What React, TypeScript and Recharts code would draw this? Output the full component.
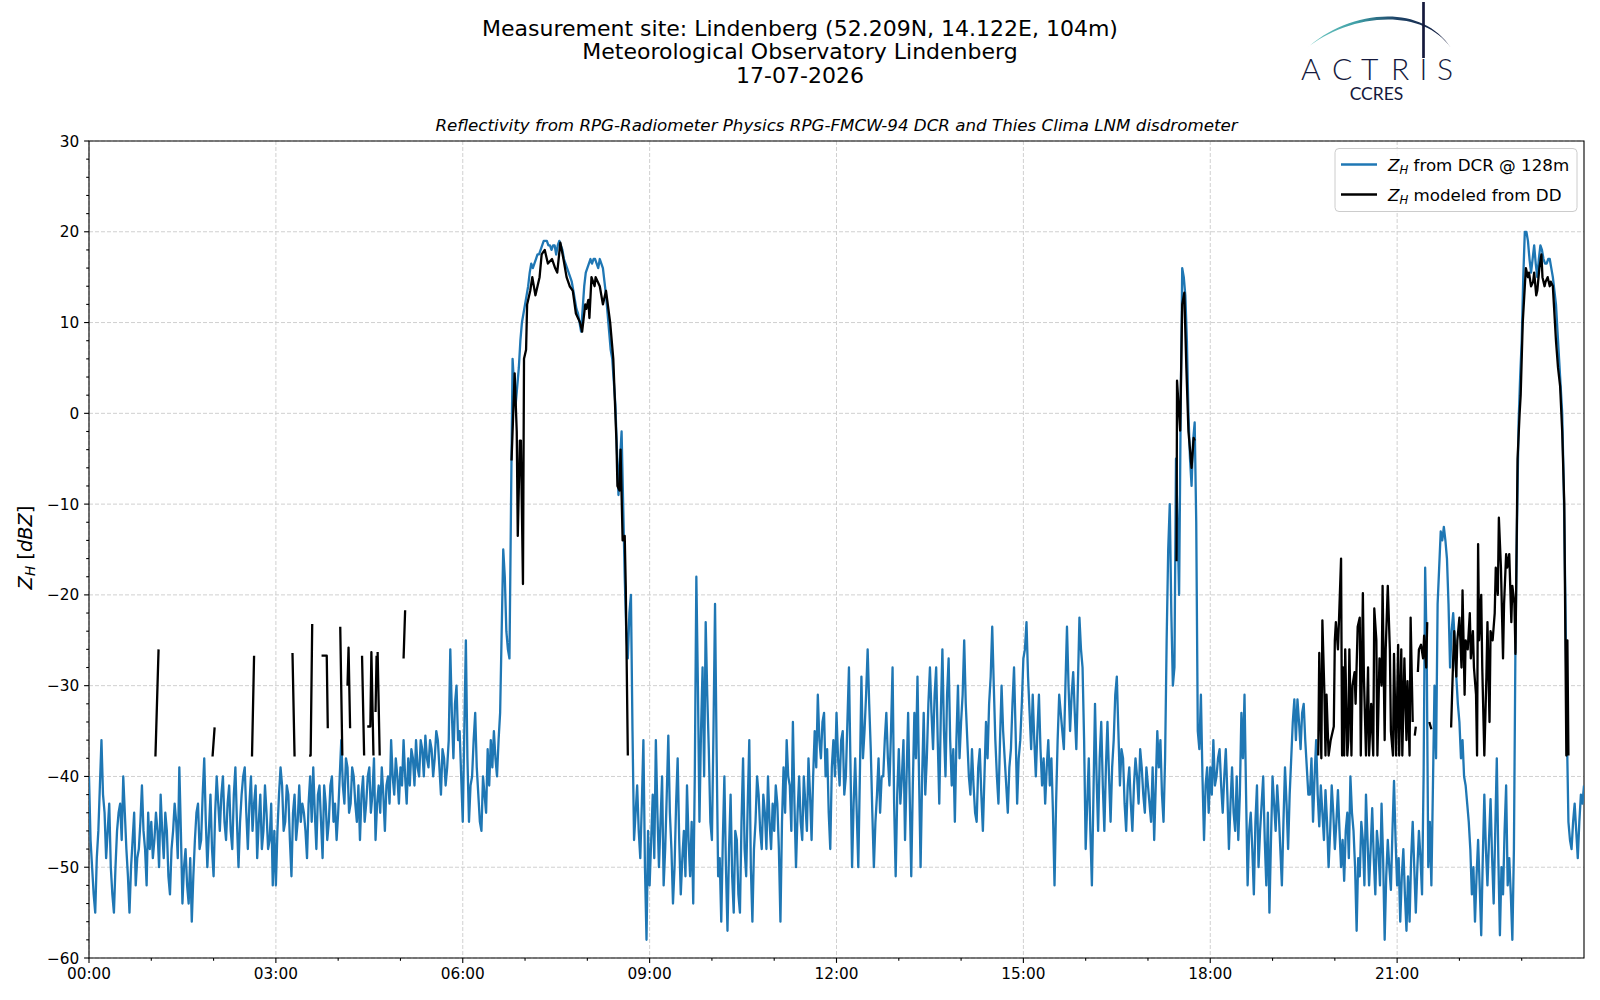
import React from 'react';
import { LineChart, Line, XAxis, YAxis, CartesianGrid, ReferenceArea } from 'recharts';

const FONT = '"DejaVu Sans", Verdana, sans-serif';

// ---- DCR reflectivity at 128 m (dBZ) ----
// main samples every 3 minutes (t = 0, 3, 6, ... min)
const blueStepMin = 3;
const blueH00 = [
  -40, -50, -55, -46, -36, -44, -46, -50, -55, -46, -43, -40, -48, -55, -47, -52, -48, -41, -48, -44,
  -45, -47, -46, -42, -49, -46, -53, -46, -45, -39, -54, -48, -54, -56, -47, -43, -47, -38, -50, -42,
  -51, -40, -46, -40, -47, -41, -48, -39, -50, -42, -39, -48, -40, -43, -49, -42, -46, -44, -47, -52,
];
const blueH03 = [
  -52, -42, -41, -45, -42, -51, -42, -45, -45, -44, -49, -40, -39, -48, -41, -49, -43, -45, -40, -43,
  -44, -36, -43, -39, -43, -40, -45, -47, -40, -43, -39, -42, -47, -41, -39, -46, -40, -36, -42, -40,
  -39, -36, -43, -41, -38, -36, -40, -37, -35.5, -39, -37, -38, -36, -42, -38, -39, -26, -38, -30, -35,
];
const blueH06 = [
  -45, -25, -45, -40, -33, -42, -46, -42, -37, -36, -35, -40, -33, -15, -24, -27, 6, 1, 5, 10,
  12, 14, 16.5, 16.5, 17.5, 18, 19, 19, 18.5, 18.5, 17.5, 19, 18, 16.5, 15.5, 14.5, 12.5, 11, 9, 14,
  16, 17, 17, 16.5, 17, 16, 13, 9, 6, 1, -9, -2, -18, -27, -20, -47, -41, -49, -36, -58,
];
const blueH09 = [
  -52, -42, -36, -50, -40, -48, -35.5, -48, -50, -38, -53, -46, -41, -51, -54, -18, -45, -28, -23, -37,
  -47, -21, -51, -56, -40, -57, -42, -55, -47, -55, -38, -51, -36, -56, -45, -42, -48, -44, -40, -48,
  -46, -43, -56, -39, -36, -41, -34, -50, -40, -47, -43, -38, -47, -35, -31, -38, -33, -37, -48, -36,
];
const blueH12 = [
  -33, -41, -35, -40, -28, -50, -38, -50, -29, -35, -26, -37, -50, -42, -44, -40, -33, -41, -28, -51,
  -37, -40, -47, -33, -51, -33, -29, -50, -33, -38, -28, -37, -28, -43, -26, -40, -27, -41, -45, -30,
  -34, -25, -36, -42, -41, -45, -37, -46, -34, -32, -23.5, -36, -43, -30, -38, -44, -37, -28, -43, -36,
];
const blueH15 = [
  -27, -23, -33, -31, -40, -31, -41, -43, -36, -38, -52, -36, -33, -37, -23.5, -35, -28.5, -37, -22.5, -28,
  -48, -38, -52, -32, -46, -34, -46, -34, -45, -36, -29, -41, -38, -46, -39, -46, -38, -43, -39, -44,
  -41, -45, -47, -35, -36, -45, -25, -10, -30, -5, -20, 16, 13, 0, -8, -1, -35, -31, -47, -39,
];
const blueH18 = [
  -39, -36, -40, -37, -44, -37, -48, -39, -46, -47, -33, -31, -52, -44, -53, -41, -46, -40, -52, -55,
  -40, -46, -44, -52, -39, -48, -38, -31.5, -31.5, -37, -32, -39, -42, -45, -36, -45.5, -44, -41.5, -50, -41,
  -48, -41.5, -50, -51.5, -44, -40, -46, -57, -51, -47, -42, -52, -43.5, -53, -48, -43, -58, -47, -52.5, -40.5,
];
const blueH21 = [
  -52, -56, -48, -57, -56, -45, -55, -46, -53, -17, -50, -52, -30, -21, -13, -12.5, -16, -28, -22, -29,
  -34, -36, -41, -45, -53, -56, -47, -57.5, -42, -52, -42.5, -54, -38, -57.5, -53, -41, -49, -58, -25, -1,
  8, 20, 19, 15.5, 18.5, 15, 18.5, 17, 16.5, 17, 15, 12, 6, 0, -20, -45, -48, -43, -49, -42, -41,
];
// in-between samples (t = 1.5, 4.5, 7.5, ... min)
const blueH00b = [
  -47, -53, -49, -41, -42, -49, -43, -53, -50, -44, -47, -44, -51, -50, -44, -49, -45, -46, -52, -48,
  -49, -44, -50, -46, -44, -51, -48, -43, -49, -46, -50, -52, -49, -51, -44, -48, -42, -45, -46, -48,
  -44, -43, -42, -45, -43, -46, -42, -45, -45, -40, -44, -43, -46, -41, -45, -48, -41, -48, -43, -46,
];
const blueH03b = [
  -46, -39, -46, -41, -47, -44, -47, -41, -43, -46, -43, -45, -44, -42, -45, -41, -47, -41, -45, -47,
  -40, -41, -38, -44, -39, -43, -41, -42, -45, -40, -44, -38, -43, -44, -42, -41, -43, -40, -38, -43,
  -41, -40, -38, -37, -41, -39, -36, -40, -38, -36, -40, -35, -39, -37, -41, -36, -33, -32, -36, -40,
];
const blueH06b = [
  -35, -38, -41, -36, -39, -45, -40, -44, -41, -39, -38, -36, -24, -18, -26, -10, 3, 3, 8, 11,
  13, 15.5, 16, 17, 17.5, 18.5, 19, 18.5, 18, 18.5, 18.5, 18.5, 17, 16, 15, 13.5, 11.5, 10, 11.5, 15.5,
  16.5, 16.5, 17, 16, 16.5, 14.5, 11, 7, 3.5, -4, -5, -10, -24, -22, -35, -44, -46, -43, -50, -46,
];
const blueH09b = [
  -47, -49, -44, -45, -52, -42, -44, -54, -43, -47, -49, -51, -47, -45, -40, -30, -35, -40, -31, -45,
  -35, -37, -49, -47, -50, -48, -51, -46, -53, -45, -48, -43, -50, -48, -40, -46, -42, -48, -45, -43,
  -41, -48, -45, -44, -40, -46, -43, -44, -45, -40, -46, -42, -40, -39, -36, -34, -40, -44, -39, -40,
];
const blueH12b = [
  -38, -36, -42, -34, -39, -43, -44, -40, -38, -31, -32, -44, -45, -38, -40, -36, -38, -35, -43, -42,
  -43, -36, -40, -42, -41, -38, -40, -40, -42, -32, -33, -31, -36, -33, -35, -31, -36, -37, -36, -38,
  -31, -32, -40, -37, -44, -39, -42, -40, -38, -29, -30, -40, -36, -35, -41, -39, -32, -35, -38, -32,
];
const blueH15b = [
  -26, -29, -37, -36, -35, -37, -38, -39, -41, -44, -43, -31, -35, -30, -30, -31, -33, -30, -26, -36,
  -43, -46, -42, -40, -38, -41, -39, -40, -39, -31, -35, -37, -43, -41, -43, -41, -40, -37, -42, -39,
  -43, -39, -41, -39, -42, -38, -15, -22, -28, -12, 0, 15, 8, -5, -3, -12, -37, -40, -41, -44,
];
const blueH18b = [
  -42, -41, -38, -41, -40, -42, -43, -44, -40, -42, -38, -42, -46, -48, -45, -50, -43, -47, -44, -47,
  -43, -41, -48, -45, -43, -42, -34, -36, -34, -33, -36, -42, -38, -40, -42, -41, -47, -45, -46, -44,
  -45, -46, -47, -46, -49, -44, -50, -49, -45, -52, -47, -48, -49, -46, -52, -49, -51, -50, -46, -47,
];
const blueH21b = [
  -49, -51, -53, -51, -49, -50, -50, -49, -40, -26, -45, -41, -38, -17, -14, -14, -21, -24, -25, -32,
  -38, -40, -43, -48, -50, -51, -52, -49, -48, -47, -49, -46, -49, -50, -46, -52, -53, -48, -12, 4,
  15, 20, 17, 17, 16.5, 17, 18, 16.5, 17, 16, 13.5, 9, 3, -8, -35, -47, -45, -46, -45, -43,
];

// ---- Disdrometer-modelled reflectivity (minutes of day, dBZ; null = no data) ----
const blackNightT = [64, 67, 68, 119, 121, 122, 157, 159, 160, 196, 198, 199, 212, 213.5, 215, 216,
  224, 229, 230, 231, 242, 244, 245, 249, 250, 251.5, 252.5, 263, 265, 266, 268, 271, 272, 274, 275,
  276, 277, 277.5, 278, 280, 281, 303, 304.5, 306];
const blackNightZ = [-37.8, -26, null, -37.8, -34.6, null, -37.8, -26.7, null, -26.4, -37.8, null, -37.7, -37.7, -23.2, null,
  -26.7, -26.7, -34.7, null, -23.5, -37.7, null, -30, -25.8, -34.7, null, -26.7, -37.7, null, -34.5, -34.5, -26.3, -37.7, null,
  -32.9, -26.7, null, -26.3, -37.7, null, -27, -21.7, null];

const blackMorningT = [407, 410, 412, 413, 415, 416, 418, 419, 421, 422, 425, 427, 430, 432, 434, 436, 439, 442, 446, 449,
  451, 454, 457, 460, 463, 466, 469, 473, 475, 478, 479, 481, 482, 484, 487, 488, 492, 495, 498, 502,
  505, 508, 509, 511, 512, 514, 516, 517, 519, 520];
const blackMorningZ = [-5.2, 4.4, -2, -13.5, -3, -3, -18.8, 6, 7, 12, 13.5, 15, 13, 14, 15, 17.5, 18, 16.5, 17, 16,
  15.5, 18.8, 17, 15, 14, 13.5, 11, 10, 9, 12, 11.5, 12.5, 10.5, 15, 14, 15, 14, 12, 13.5, 10,
  6, -3, -8, -8.5, -4, -14, -13.5, -19, -37.7, null];

const blackEveningT = [1047.5, 1048, 1051, 1053, 1055, 1057, 1059, 1062, 1064, 1065, 1066];
const blackEveningZ = [-16.3, 3.6, -1.9, 12, 13.3, 5, -2, -6, -2.7, -3, null];

const blackLateT = [1184, 1185, 1187, 1188, 1190, 1191, 1192, 1194, 1196, 1199, 1200, 1201, 1203, 1204, 1206, 1207, 1208, 1209,
  1210, 1212, 1213, 1214, 1216, 1217, 1219, 1220, 1222, 1224, 1225, 1227, 1228, 1230, 1232, 1233, 1235, 1237,
  1238, 1240, 1241, 1243, 1245, 1246, 1248, 1249, 1251, 1253, 1254, 1256, 1257, 1259, 1261, 1262, 1264, 1265,
  1267, 1269, 1270, 1272, 1273, 1275, 1276, 1277, 1278, 1279, 1280, 1281, 1283, 1285, 1286, 1288, 1289, 1290,
  1291, 1293, 1300, 1312, 1314, 1315, 1317, 1318, 1320, 1322, 1323, 1325, 1326, 1328, 1330, 1331, 1333, 1334,
  1336, 1337, 1338, 1339, 1341, 1342, 1344, 1346, 1347, 1349, 1350, 1352, 1354, 1355, 1357, 1358, 1360, 1362,
  1363, 1365, 1366, 1368, 1370, 1371, 1373, 1374, 1376, 1378, 1379, 1381, 1383, 1384, 1386, 1387, 1389, 1391,
  1392, 1394, 1395, 1397, 1399, 1400, 1402, 1403, 1405, 1407, 1408, 1410, 1411, 1413, 1415, 1417, 1419, 1421,
  1423, 1424, 1425];
const blackLateZ = [-37.7, -26.4, -38, -22.8, -31, -37.7, -31, -37.7, -36, -34.5, -25, -23, -26, -22.8, -16, -37.7, -28, -37.7,
  -26, -37.7, -36, -26, -37.7, -30, -28.5, -32, -23.5, -22.5, -37.7, -19.8, -29, -37.7, -28, -37.7, -32, -37.7,
  -21.5, -25, -37.7, -27, -30, -19, -36, -26, -19, -26, -35, -37.7, -26.5, -37.7, -25.5, -37.7, -26, -37.7,
  -27, -36, -29.5, -37.7, -22.5, -34, null, -35.5, -34.5, null, -28.5, -26, -25.5, -27, -24.5, -28, -23, null,
  -34, -34.8, null, -34.6, -27, -24, -29, -25, -22.5, -28, -19.5, -31, -25, -26, -22, -27, -24, -28,
  -31, -37.7, -14.4, -25, -20, -28, -37.7, -29, -23, -34, -24, -25, -22, -17, -20, -11.5, -17, -27,
  -21, -15.5, -17, -15.5, -23, -19, -21, -26.5, -5, 0, 2, 10, 14, 16, 15, 15.5, 14, 14.5,
  15.5, 13, 13.5, 16, 17.5, 15, 14, 14.5, 15, 14, 14.5, 14, 12, 8, 5, 3, -2, -10,
  -37.7, -25, -37.7];

// ---- axes ----
const xMajorTicks = [0, 180, 360, 540, 720, 900, 1080, 1260];
const xMajorLabels = ['00:00', '03:00', '06:00', '09:00', '12:00', '15:00', '18:00', '21:00'];
const xAllTicks = [0, 60, 120, 180, 240, 300, 360, 420, 480, 540, 600, 660, 720, 780, 840, 900, 960, 1020, 1080, 1140, 1200, 1260, 1320, 1380];
const yMajorTicks = [-60, -50, -40, -30, -20, -10, 0, 10, 20, 30];
const yAllTicks = [-60, -58, -56, -54, -52, -50, -48, -46, -44, -42, -40, -38, -36, -34, -32, -30, -28, -26, -24, -22, -20,
  -18, -16, -14, -12, -10, -8, -6, -4, -2, 0, 2, 4, 6, 8, 10, 12, 14, 16, 18, 20, 22, 24, 26, 28, 30];

const blueMain = [...blueH00, ...blueH03, ...blueH06, ...blueH09, ...blueH12, ...blueH15, ...blueH18, ...blueH21];
const blueHalf = [...blueH00b, ...blueH03b, ...blueH06b, ...blueH09b, ...blueH12b, ...blueH15b, ...blueH18b, ...blueH21b];
const blueData = blueMain.flatMap((z, i) =>
  i < blueHalf.length
    ? [{ t: i * blueStepMin, z }, { t: i * blueStepMin + blueStepMin / 2, z: blueHalf[i] }]
    : [{ t: i * blueStepMin, z }]
);
const blackT = [...blackNightT, ...blackMorningT, ...blackEveningT, ...blackLateT];
const blackZ = [...blackNightZ, ...blackMorningZ, ...blackEveningZ, ...blackLateZ];
const blackData = blackT.map((t, i) => ({ t, z: blackZ[i] }));

const TICK_SIZE = 5;
const TICK_MARGIN = 5;
const MAJOR_LEN = 4.9;
const MINOR_LEN = 2.8;
const LABEL_PAD = 4.9;
const TICK_FONT = 15.3;
const LINE_W = 2.3;

function XTick(props: any) {
  const { x, y, payload } = props;
  const axisY = y - TICK_SIZE - TICK_MARGIN;
  const idx = xMajorTicks.indexOf(payload.value);
  const major = idx >= 0;
  return (
    <g>
      <line x1={x} x2={x} y1={axisY} y2={axisY + (major ? MAJOR_LEN : MINOR_LEN)} stroke="#000" strokeWidth={1.1} />
      {major && (
        <text x={x} y={axisY + MAJOR_LEN + LABEL_PAD} dy="0.74em" textAnchor="middle" fontSize={TICK_FONT} fill="#000" fontFamily={FONT}>
          {xMajorLabels[idx]}
        </text>
      )}
    </g>
  );
}

function YTick(props: any) {
  const { x, y, payload } = props;
  const axisX = x + TICK_SIZE + TICK_MARGIN;
  const v = payload.value;
  const major = yMajorTicks.indexOf(v) >= 0;
  const label = v < 0 ? '\u2212' + Math.abs(v) : String(v);
  return (
    <g>
      <line x1={axisX - (major ? MAJOR_LEN : MINOR_LEN)} x2={axisX} y1={y} y2={y} stroke="#000" strokeWidth={1.1} />
      {major && (
        <text x={axisX - MAJOR_LEN - LABEL_PAD} y={y} dy="0.36em" textAnchor="end" fontSize={TICK_FONT} fill="#000" fontFamily={FONT}>
          {label}
        </text>
      )}
    </g>
  );
}

function Overlay() {
  return (
    <svg width={1600} height={1000} style={{ position: 'absolute', left: 0, top: 0, pointerEvents: 'none' }} fontFamily={FONT}>
      <defs>
        <linearGradient id="arcGrad" gradientUnits="userSpaceOnUse" x1="1306" y1="0" x2="1451" y2="0">
          <stop offset="0" stopColor="#74cbc3" />
          <stop offset="0.35" stopColor="#3e9ea6" />
          <stop offset="0.62" stopColor="#1e4468" />
          <stop offset="1" stopColor="#15193c" />
        </linearGradient>
      </defs>
      {/* titles */}
      <text x={800} y={36} textAnchor="middle" fontSize={22} fill="#000">Measurement site: Lindenberg (52.209N, 14.122E, 104m)</text>
      <text x={800} y={59} textAnchor="middle" fontSize={22} fill="#000">Meteorological Observatory Lindenberg</text>
      <text x={800} y={82.5} textAnchor="middle" fontSize={22} fill="#000">17-07-2026</text>
      <text x={836.5} y={131} textAnchor="middle" fontSize={16.7} fontStyle="italic" fill="#000">
        Reflectivity from RPG-Radiometer Physics RPG-FMCW-94 DCR and Thies Clima LNM disdrometer
      </text>
      {/* y label */}
      <text transform="translate(31.5,547.5) rotate(-90)" textAnchor="middle" fontSize={19.4} fill="#000">
        <tspan fontStyle="italic">Z</tspan>
        <tspan fontStyle="italic" fontSize={13.6} dy={3}>H</tspan>
        <tspan dy={-3}> [</tspan>
        <tspan fontStyle="italic">dBZ</tspan>
        <tspan>]</tspan>
      </text>
      {/* legend */}
      <rect x={1335} y={148.5} width={242} height={63} rx={4} fill="#fff" fillOpacity={0.8} stroke="#cccccc" strokeWidth={1} />
      <line x1={1341} x2={1377} y1={164.5} y2={164.5} stroke="#1f77b4" strokeWidth={LINE_W} />
      <line x1={1341} x2={1377} y1={194.5} y2={194.5} stroke="#000" strokeWidth={LINE_W} />
      <text x={1388} y={170.5} fontSize={16.7} fill="#000">
        <tspan fontStyle="italic">Z</tspan>
        <tspan fontStyle="italic" fontSize={11.7} dy={3.5}>H</tspan>
        <tspan dy={-3.5}> from DCR @ 128m</tspan>
      </text>
      <text x={1388} y={200.5} fontSize={16.7} fill="#000">
        <tspan fontStyle="italic">Z</tspan>
        <tspan fontStyle="italic" fontSize={11.7} dy={3.5}>H</tspan>
        <tspan dy={-3.5}> modeled from DD</tspan>
      </text>
      {/* logo */}
      <path d="M1306,49 C1345,12 1420,0 1451,48 C1420,4.5 1345,16 1306,49 Z" fill="url(#arcGrad)" />
      <line x1={1423.5} x2={1423.5} y1={2} y2={58} stroke="#15193c" strokeWidth={2.7} />
      <text x="1301 1332 1361 1391 1419.5 1437" y={80} fontSize={30} fontFamily="Lato, 'Open Sans', sans-serif" fontWeight={300} fill="#15193c">ACTRIS</text>
      <text x={1376.5} y={99.5} textAnchor="middle" fontSize={17.5} fontFamily="Lato, 'Open Sans', sans-serif" fill="#15193c">CCRES</text>
    </svg>
  );
}

export default function App() {
  return (
    <div style={{ position: 'absolute', left: 0, top: 0, width: 1600, height: 1000, background: '#fff', fontFamily: FONT }}>
      <LineChart width={1600} height={1000} margin={{ top: 141, right: 16, bottom: 12, left: 29 }} style={{ position: 'absolute', left: 0, top: 0 }}>
        <CartesianGrid
          horizontalValues={yMajorTicks}
          verticalValues={xMajorTicks}
          stroke="#d0d0d0"
          strokeWidth={1}
          strokeDasharray="4 2"
        />
        <XAxis
          dataKey="t"
          type="number"
          domain={[0, 1440]}
          allowDataOverflow
          ticks={xAllTicks}
          interval={0}
          tick={XTick}
          tickLine={false}
          axisLine={false}
          tickSize={TICK_SIZE}
          tickMargin={TICK_MARGIN}
          height={30}
        />
        <YAxis
          type="number"
          domain={[-60, 30]}
          allowDataOverflow
          ticks={yAllTicks}
          interval={0}
          tick={YTick}
          tickLine={false}
          axisLine={false}
          tickSize={TICK_SIZE}
          tickMargin={TICK_MARGIN}
          width={60}
        />
        <Line data={blueData} dataKey="z" type="linear" stroke="#1f77b4" strokeWidth={LINE_W} dot={false} activeDot={false} isAnimationActive={false} strokeLinejoin="round" />
        <Line data={blackData} dataKey="z" type="linear" stroke="#000000" strokeWidth={LINE_W} dot={false} activeDot={false} isAnimationActive={false} connectNulls={false} strokeLinejoin="round" />
        <ReferenceArea x1={0} x2={1440} y1={-60} y2={30} fill="none" fillOpacity={0} stroke="#000" strokeWidth={1.1} />
      </LineChart>
      <Overlay />
    </div>
  );
}
